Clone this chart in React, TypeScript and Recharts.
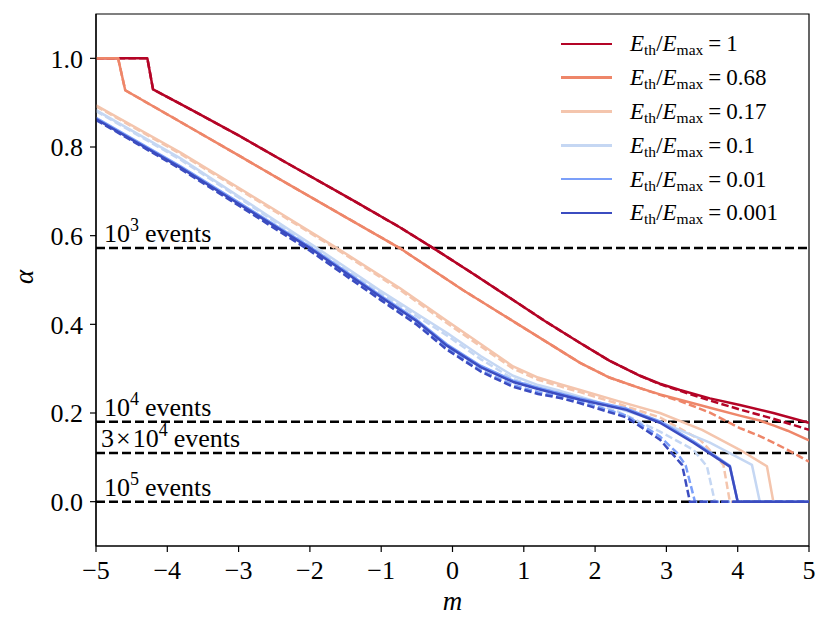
import React from 'react';
import { LineChart, Line, XAxis, YAxis, ReferenceLine, ReferenceArea, Legend, Label } from 'recharts';

const SERIF = "'Liberation Serif', 'Times New Roman', Times, serif";

const X_TICKS = [-5, -4, -3, -2, -1, 0, 1, 2, 3, 4, 5];
const Y_TICKS = [0, 0.2, 0.4, 0.6, 0.8, 1.0];

const EVENT_LEVELS = [0.572, 0.18, 0.11, 0];
const EVENT_PREFIX = ['', '', '3', ''];
const EVENT_EXP = ['3', '4', '4', '5'];

const RATIO_LABELS = ['1', '0.68', '0.17', '0.1', '0.01', '0.001'];
const RATIO_COLORS = ['#b40426', '#ee8669', '#f4c5ad', '#c5d7f3', '#7b9ff9', '#3b4cc0'];

// E_th/E_max = 1
const M_R = [-5, -4.28, -4.2, -3.64, -3, -2.28, -1.4, -0.74, -0.27, 0.3, 0.85, 1.3, 1.79, 2.2, 2.63, 2.91, 3.19, 3.61, 4.03, 4.5, 5];
const A_R = [1, 1, 0.93, 0.882, 0.826, 0.76, 0.68, 0.619, 0.572, 0.513, 0.455, 0.407, 0.358, 0.318, 0.284, 0.266, 0.252, 0.233, 0.218, 0.2, 0.178];
const M_RD = [-5, -4.28, -4.2, -3.64, -3, -2.28, -1.4, -0.74, -0.27, 0.3, 0.85, 1.3, 1.79, 2.2, 2.63, 2.91, 3.19, 3.61, 4.03, 4.5, 5];
const A_RD = [1, 1, 0.93, 0.882, 0.826, 0.76, 0.68, 0.619, 0.572, 0.513, 0.455, 0.407, 0.358, 0.318, 0.284, 0.265, 0.25, 0.228, 0.208, 0.187, 0.162];

// E_th/E_max = 0.68
const M_O = [-5, -4.69, -4.59, -3.82, -3, -2.28, -1.5, -0.74, 0.15, 0.67, 1.3, 1.79, 2.2, 2.63, 2.91, 3.19, 3.61, 4.03, 4.31, 4.5, 4.7, 5];
const A_O = [1, 1, 0.928, 0.857, 0.781, 0.714, 0.642, 0.572, 0.477, 0.425, 0.362, 0.313, 0.28, 0.256, 0.242, 0.23, 0.212, 0.194, 0.183, 0.172, 0.16, 0.138];
const M_OD = [-5, -4.69, -4.59, -3.82, -3, -2.28, -1.5, -0.74, 0.15, 0.67, 1.3, 1.79, 2.2, 2.63, 2.91, 3.19, 3.61, 4.03, 4.31, 4.5, 4.7, 5];
const A_OD = [1, 1, 0.928, 0.857, 0.781, 0.714, 0.642, 0.572, 0.477, 0.425, 0.362, 0.313, 0.28, 0.256, 0.241, 0.227, 0.201, 0.166, 0.148, 0.133, 0.117, 0.09];

// E_th/E_max = 0.17
const M_P = [-5, -3.82, -3, -2.42, -1.62, -0.74, -0.08, 0.4, 0.85, 1.2, 1.51, 1.79, 2.3, 2.91, 3.5, 4.03, 4.41, 4.5, 5];
const A_P = [0.894, 0.788, 0.708, 0.651, 0.572, 0.482, 0.408, 0.355, 0.305, 0.28, 0.265, 0.252, 0.228, 0.2, 0.162, 0.117, 0.08, 0, 0];
const M_PD = [-5, -3.82, -3, -2.42, -1.62, -0.74, -0.08, 0.4, 0.85, 1.2, 1.51, 1.79, 2.3, 2.91, 3.47, 3.8, 3.89, 5];
const A_PD = [0.892, 0.785, 0.705, 0.648, 0.569, 0.478, 0.403, 0.35, 0.3, 0.275, 0.26, 0.247, 0.222, 0.19, 0.14, 0.083, 0, 0];

// E_th/E_max = 0.1
const M_L = [-5, -3.82, -3, -1.9, -1.02, -0.08, 0.4, 0.85, 1.2, 1.51, 1.79, 2.3, 2.91, 3.61, 4.2, 4.31, 5];
const A_L = [0.883, 0.775, 0.689, 0.572, 0.477, 0.381, 0.328, 0.284, 0.263, 0.25, 0.237, 0.212, 0.18, 0.133, 0.083, 0, 0];
const M_LD = [-5, -3.82, -3, -1.9, -1.02, -0.08, 0.4, 0.85, 1.2, 1.51, 1.79, 2.3, 2.91, 3.38, 3.57, 3.68, 5];
const A_LD = [0.881, 0.772, 0.686, 0.568, 0.472, 0.375, 0.321, 0.277, 0.257, 0.246, 0.232, 0.205, 0.158, 0.117, 0.079, 0, 0];

// E_th/E_max = 0.01
const M_MB = [-5, -3.82, -3, -2.0, -1.0, -0.5, -0.08, 0.4, 0.85, 1.2, 1.51, 1.79, 2.44, 2.91, 3.38, 3.89, 4.0, 5];
const A_MB = [0.866, 0.757, 0.675, 0.575, 0.464, 0.41, 0.355, 0.306, 0.273, 0.257, 0.244, 0.233, 0.21, 0.181, 0.136, 0.081, 0, 0];
const M_MBD = [-5, -3.82, -3, -2.0, -1.0, -0.5, -0.08, 0.4, 0.85, 1.2, 1.51, 1.79, 2.44, 2.91, 3.15, 3.27, 3.4, 5];
const A_MBD = [0.863, 0.753, 0.67, 0.569, 0.457, 0.402, 0.346, 0.296, 0.263, 0.247, 0.237, 0.226, 0.194, 0.147, 0.11, 0.082, 0, 0];

// E_th/E_max = 0.001
const M_D = [-5, -3.82, -3, -2.0, -1.0, -0.5, -0.08, 0.4, 0.85, 1.2, 1.51, 1.79, 2.44, 2.91, 3.38, 3.89, 4.0, 5];
const A_D = [0.863, 0.754, 0.672, 0.572, 0.461, 0.407, 0.352, 0.303, 0.27, 0.254, 0.241, 0.23, 0.207, 0.178, 0.133, 0.079, 0, 0];
const M_DD = [-5, -3.82, -3, -2.0, -1.0, -0.5, -0.08, 0.4, 0.85, 1.2, 1.51, 1.79, 2.44, 2.91, 3.1, 3.22, 3.33, 5];
const A_DD = [0.861, 0.751, 0.668, 0.566, 0.454, 0.399, 0.343, 0.293, 0.259, 0.243, 0.234, 0.222, 0.19, 0.14, 0.105, 0.083, 0, 0];

const zip = (ms: number[], as: number[]) => ms.map((m, i) => ({ m, a: as[i] }));

const SERIES = [
  { solid: zip(M_R, A_R), dashed: zip(M_RD, A_RD) },
  { solid: zip(M_O, A_O), dashed: zip(M_OD, A_OD) },
  { solid: zip(M_P, A_P), dashed: zip(M_PD, A_PD) },
  { solid: zip(M_L, A_L), dashed: zip(M_LD, A_LD) },
  { solid: zip(M_MB, A_MB), dashed: zip(M_MBD, A_MBD) },
  { solid: zip(M_D, A_D), dashed: zip(M_DD, A_DD) },
];

const fmtX = (v: number) => (v < 0 ? '\u2212' + Math.abs(v) : String(v));
const fmtY = (v: number) => v.toFixed(1);

const tickStyle = { fontSize: 26, fontFamily: SERIF, fill: '#000', style: { fontFamily: SERIF } };

const makeEventLabel = (i: number) => (props: any) => {
  const vb = props.viewBox || {};
  const x = (vb.x ?? 96) + 8;
  const y = (vb.y ?? 0) - 6;
  const pre = EVENT_PREFIX[i];
  return (
    <text x={pre ? x - 3 : x} y={y} fontFamily={SERIF} style={{ fontFamily: SERIF }} fontSize={26} fill="#000">
      {pre ? <tspan>{pre}</tspan> : null}
      {pre ? <tspan dx={2}>×</tspan> : null}
      <tspan dx={pre ? 2 : 0}>10</tspan>
      <tspan dy={-11} fontSize={18}>{EVENT_EXP[i]}</tspan>
      <tspan dy={11} dx={6} fontSize={26}>events</tspan>
    </text>
  );
};

const LegendBox = () => (
  <div style={{ fontFamily: SERIF, color: '#000' }}>
    {RATIO_LABELS.map((lab, i) => (
      <div key={lab} style={{ display: 'flex', alignItems: 'center', height: 33.8 }}>
        <span style={{ display: 'inline-block', width: 51, height: 2.5, background: RATIO_COLORS[i], marginRight: 18 }} />
        <span style={{ fontSize: 23, lineHeight: 1, whiteSpace: 'nowrap' }}>
          <i>E</i>
          <span style={{ fontSize: 15.5, position: 'relative', top: 4 }}>th</span>
          /
          <i>E</i>
          <span style={{ fontSize: 15.5, position: 'relative', top: 4 }}>max</span>
          <span style={{ margin: '0 5px' }}>=</span>
          {lab}
        </span>
      </div>
    ))}
  </div>
);

export default function App() {
  return (
    <div style={{ position: 'absolute', left: 0, top: 0, width: 831, height: 632, background: '#fff', fontFamily: SERIF }}>
      <LineChart width={831} height={632} margin={{ top: 14, right: 22, bottom: 0, left: 0 }} style={{ fontFamily: SERIF }}>
        <XAxis
          dataKey="m"
          type="number"
          domain={[-5, 5]}
          ticks={X_TICKS}
          tickFormatter={fmtX}
          allowDataOverflow
          height={86}
          tickSize={6}
          tickMargin={9}
          stroke="#000"
          tick={tickStyle}
          tickLine={{ stroke: '#000', strokeWidth: 1.2 }}
          axisLine={{ stroke: '#000', strokeWidth: 1.2 }}
        >
          <Label
            content={(p: any) => {
              const vb = p.viewBox || { x: 96, y: 546, width: 713, height: 86 };
              return (
                <text x={vb.x + vb.width / 2} y={610} textAnchor="middle" fontFamily={SERIF} style={{ fontFamily: SERIF }} fontStyle="italic" fontSize={27} fill="#000">
                  m
                </text>
              );
            }}
          />
        </XAxis>
        <YAxis
          type="number"
          domain={[-0.1, 1.1]}
          ticks={Y_TICKS}
          tickFormatter={fmtY}
          allowDataOverflow
          width={96}
          tickSize={6}
          tickMargin={7}
          stroke="#000"
          tick={tickStyle}
          tickLine={{ stroke: '#000', strokeWidth: 1.2 }}
          axisLine={{ stroke: '#000', strokeWidth: 1.2 }}
        >
          <Label
            content={(p: any) => {
              const vb = p.viewBox || { x: 0, y: 14, width: 96, height: 532 };
              const cx = 33;
              const cy = vb.y + vb.height / 2 - 3;
              return (
                <text x={cx} y={cy} transform={`rotate(-90, ${cx}, ${cy})`} textAnchor="middle" fontFamily={SERIF} style={{ fontFamily: SERIF }} fontStyle="italic" fontSize={27} fill="#000">
                  α
                </text>
              );
            }}
          />
        </YAxis>

        {EVENT_LEVELS.map((v, i) => (
          <ReferenceLine key={'ev' + i} y={v} stroke="#000" strokeWidth={2.5} strokeDasharray="9 4" label={makeEventLabel(i)} ifOverflow="visible" />
        ))}

        {SERIES.flatMap((s, i) => [
          <Line
            key={'s' + i}
            data={s.solid}
            dataKey="a"
            name={RATIO_LABELS[i]}
            type="linear"
            stroke={RATIO_COLORS[i]}
            strokeWidth={2.5}
            strokeLinejoin="round"
            dot={false}
            activeDot={false}
            isAnimationActive={false}
          />,
          <Line
            key={'d' + i}
            data={s.dashed}
            dataKey="a"
            name={RATIO_LABELS[i] + ' dashed'}
            legendType="none"
            type="linear"
            stroke={RATIO_COLORS[i]}
            strokeWidth={2.5}
            strokeDasharray="7.5 3.3"
            dot={false}
            activeDot={false}
            isAnimationActive={false}
          />,
        ])}

        <ReferenceArea x1={-5} x2={5} y1={-0.1} y2={1.1} fill="none" fillOpacity={0} stroke="#000" strokeWidth={1.2} ifOverflow="visible" />

        <Legend
          layout="vertical"
          align="center"
          verticalAlign="middle"
          wrapperStyle={{ position: 'absolute', left: 561, top: 27, width: 262, margin: 0, padding: 0 }}
          content={() => <LegendBox />}
        />
      </LineChart>
    </div>
  );
}
